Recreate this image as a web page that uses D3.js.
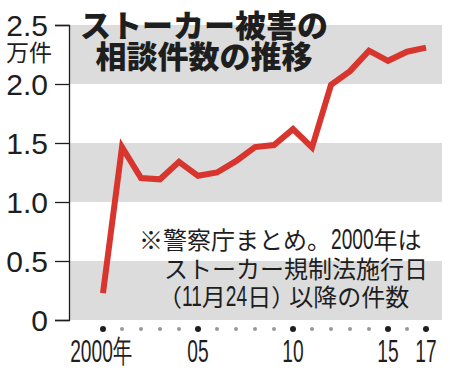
<!DOCTYPE html>
<html>
<head>
<meta charset="utf-8">
<script src="https://cdn.jsdelivr.net/npm/d3@7"></script>
<style>
  html, body { margin: 0; padding: 0; background: #fff; }
  svg { display: block; }
</style>
</head>
<body>
<div id="chart"></div>
<script>
// 警察庁まとめ ストーカー相談件数（万件）
var years = [2000, 2001, 2002, 2003, 2004, 2005, 2006, 2007, 2008, 2009,
             2010, 2011, 2012, 2013, 2014, 2015, 2016, 2017];
var counts = [0.228, 1.4662, 1.2024, 1.1923, 1.3403, 1.222, 1.2501, 1.3463, 1.4657, 1.4823,
              1.6176, 1.4618, 1.992, 2.1089, 2.2823, 2.1968, 2.2737, 2.3079];
var yTicks = [0, 0.5, 1.0, 1.5, 2.0, 2.5];
var bands = [[0, 0.5], [1.0, 1.5], [2.0, 2.5]];
var xLabelYears = [2000, 2005, 2010, 2015, 2017];
var xLabels = ["2000年", "05", "10", "15", "17"];
var titleLines = ["ストーカー被害の", "相談件数の推移"];
var noteLines = ["※警察庁まとめ。2000年は", "ストーカー規制法施行日", "（11月24日）以降の件数"];

var w = 450, h = 371;
var jp = "'Noto Sans CJK JP', sans-serif";
var num = "'Liberation Sans', Arial, sans-serif";
var ink = "#1e1e1e";

var svg = d3.select("#chart").append("svg")
    .attr("width", w)
    .attr("height", h);

var x = d3.scaleLinear().domain([2000, 2017]).range([103, 426]);
var y = d3.scaleLinear().domain([0, 2.5]).range([320, 25]);

// gray bands
svg.selectAll("rect.band")
    .data(bands)
    .enter().append("rect")
    .attr("class", "band")
    .attr("x", 70)
    .attr("width", 442 - 70)
    .attr("y", function (d) { return y(d[1]); })
    .attr("height", function (d) { return y(d[0]) - y(d[1]); })
    .attr("fill", "#dcdcdc");

// y axis
var yAxis = d3.axisLeft(y)
    .tickValues(yTicks)
    .tickSize(14)
    .tickSizeOuter(14)
    .tickPadding(7)
    .tickFormat(function (d) { return d === 0 ? "0" : d3.format(".1f")(d); });

var ga = svg.append("g")
    .attr("transform", "translate(69,0)")
    .call(yAxis);
ga.selectAll("path, line").attr("stroke", ink).attr("stroke-width", 1.3);
ga.selectAll("text")
    .attr("font-family", num)
    .attr("font-size", 30)
    .attr("fill", ink)
    .attr("dy", "0.36em");

svg.append("text")
    .attr("x", 29)
    .attr("y", 61)
    .attr("text-anchor", "middle")
    .attr("font-family", jp)
    .attr("font-size", 23)
    .attr("fill", ink)
    .text("万件");

// title
svg.selectAll("text.title")
    .data(titleLines)
    .enter().append("text")
    .attr("class", "title")
    .attr("x", 204)
    .attr("y", function (d, i) { return 37 + i * 31; })
    .attr("text-anchor", "middle")
    .attr("font-family", jp)
    .attr("font-weight", 900)
    .attr("font-size", 31)
    .attr("fill", ink)
    .text(function (d) { return d; });

// note, digits drawn condensed, closing paren a bit narrower
function noteLine(str, x0, y0) {
    var cx = x0;
    str.split(/(\d+|）)/).filter(function (s) { return s; }).forEach(function (s) {
        var isNum = /^\d+$/.test(s);
        var k = isNum ? 0.66 : 1;
        var t = svg.append("text")
            .attr("transform", "translate(" + cx + "," + y0 + ") scale(" + k + ",1)")
            .attr("font-family", isNum ? num : jp)
            .attr("font-size", isNum ? 29 : 24)
            .attr("fill", ink)
            .text(s);
        cx += s === "）" ? 18 : t.node().getComputedTextLength() * k;
    });
}
noteLine(noteLines[0], 139, 249);
noteLine(noteLines[1], 164, 278);
noteLine(noteLines[2], 158, 306);

// line
var line = d3.line()
    .x(function (d, i) { return x(years[i]); })
    .y(function (d) { return y(d); });

svg.append("path")
    .attr("d", line(counts))
    .attr("fill", "none")
    .attr("stroke", "#d7352d")
    .attr("stroke-width", 6)
    .attr("stroke-linejoin", "miter");

// x dots
svg.selectAll("circle.yr")
    .data(years)
    .enter().append("circle")
    .attr("class", "yr")
    .attr("cx", function (d) { return x(d); })
    .attr("cy", 329)
    .attr("r", function (d) { return xLabelYears.indexOf(d) >= 0 ? 3 : 2; })
    .attr("fill", function (d) { return xLabelYears.indexOf(d) >= 0 ? ink : "#999"; });

// x labels
svg.selectAll("text.xl")
    .data(xLabelYears)
    .enter().append("text")
    .attr("class", "xl")
    .attr("transform", function (d) { return "translate(" + (d === 2000 ? 101 : x(d)) + ",362) scale(0.6,1)"; })
    .attr("text-anchor", "middle")
    .attr("font-family", num)
    .attr("font-size", 32)
    .attr("fill", ink)
    .text(function (d, i) { return xLabels[i]; });
</script>
</body>
</html>
